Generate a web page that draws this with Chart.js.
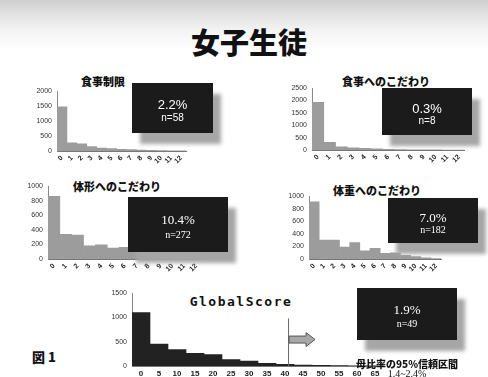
<!DOCTYPE html>
<html>
<head>
<meta charset="utf-8">
<script src="https://cdn.jsdelivr.net/npm/chart.js@4.4.0/dist/chart.umd.min.js"></script>
<style>
  html, body { margin: 0; padding: 0; }
  body {
    width: 488px; height: 377px; overflow: hidden; position: relative;
    background: linear-gradient(to bottom, #cfcfcf 0px, #e2e2e2 14px, #f3f3f3 30px, #fff 50px);
    font-family: "Noto Sans CJK JP", "Liberation Sans", sans-serif;
  }
  .cv { position: absolute; }
  .txt { position: absolute; white-space: nowrap; color: #111; }
  .box {
    position: absolute; background: #1b1b1b; color: #fff; text-align: center;
    box-shadow: 8px 11px 4px #a6a6a6;
  }
  .box .p { position: absolute; left: 0; right: 0; }
</style>
</head>
<body>
<div class="txt" style="left:249px;top:41px;transform:translate(-50%,-50%);font-size:29px;font-weight:900;">女子生徒</div>

<div class="txt" style="left:103px;top:81px;transform:translate(-50%,-50%);font-size:11px;font-weight:900;">食事制限</div>
<div class="txt" style="left:386px;top:81px;transform:translate(-50%,-50%);font-size:11px;font-weight:900;">食事へのこだわり</div>
<div class="txt" style="left:117px;top:186px;transform:translate(-50%,-50%);font-size:11px;font-weight:900;">体形へのこだわり</div>
<div class="txt" style="left:377px;top:190px;transform:translate(-50%,-50%);font-size:11px;font-weight:900;">体重へのこだわり</div>
<div class="txt" style="left:241px;top:301px;transform:translate(-50%,-50%);font-size:13px;font-weight:bold;letter-spacing:1.5px;font-family:'DejaVu Sans Mono','Liberation Mono',monospace;">GlobalScore</div>
<div class="txt" style="left:32px;top:356px;transform:translateY(-50%);font-size:13px;font-weight:900;">図 1</div>

<canvas id="c1" class="cv"></canvas>
<canvas id="c2" class="cv"></canvas>
<canvas id="c3" class="cv"></canvas>
<canvas id="c4" class="cv"></canvas>
<canvas id="c5" class="cv"></canvas>

<div id="boxes"></div>
<div class="txt" style="left:407px;top:363px;transform:translate(-50%,-50%);font-size:10px;font-weight:900;">母比率の95%信頼区間</div>
<div class="txt" style="left:407px;top:373px;transform:translate(-50%,-50%);font-size:10px;font-family:'Liberation Serif',serif;">1.4~2.4%</div>

<script>
// category labels (unreadable in the scan, small rotated ticks)
var smallLabels = ['0','1','2','3','4','5','6','7','8','9','10','11','12'];

// 食事制限
var dietValues = [1480, 270, 240, 150, 100, 80, 60, 45, 30, 20, 10, 5, 3];
// 食事へのこだわり
var foodValues = [1930, 310, 130, 90, 70, 50, 30, 15, 8, 4, 2, 1, 0];
// 体形へのこだわり
var shapeValues = [860, 340, 330, 180, 195, 150, 160, 90, 130, 100, 70, 30, 15];
// 体重へのこだわり
var weightValues = [910, 300, 300, 190, 260, 130, 170, 90, 100, 60, 40, 20, 5];

// GlobalScore
var globalLabels = ['0','5','10','15','20','25','30','35','40','45','50','55','60','65'];
var globalValues = [1100, 450, 340, 260, 235, 130, 100, 55, 35, 20, 12, 8, 5, 4];
var cutoffPos = 8.17;      // cutoff line, in category units
var cutoffTop = 980;       // top of the cutoff line
var arrowLevel = 545;      // arrow height on the y scale

var pctTexts = ['2.2%', '0.3%', '10.4%', '7.0%', '1.9%'];
var nTexts = ['n=58', 'n=8', 'n=272', 'n=182', 'n=49'];

// box placement
var boxList = [
    {x: 132, y: 83, w: 81, h: 50, serif: false},
    {x: 382, y: 88, w: 90, h: 47, serif: false},
    {x: 128, y: 197, w: 100, h: 55, serif: true},
    {x: 388, y: 198, w: 90, h: 45, serif: true},
    {x: 357, y: 288, w: 100, h: 52, serif: true}
];
boxList.forEach((b, i) => {
    let d = document.createElement('div');
    d.className = 'box';
    d.style.left = b.x + 'px';
    d.style.top = b.y + 'px';
    d.style.width = b.w + 'px';
    d.style.height = b.h + 'px';
    let fam = b.serif ? "'Liberation Serif', serif" : "'Liberation Sans', sans-serif";
    d.innerHTML = `<div class="p" style="top:${b.h*0.27}px;font-size:13px;font-family:${fam};">${pctTexts[i]}</div>` +
        `<div class="p" style="top:${b.h*0.58}px;font-size:10px;font-family:${fam};">${nTexts[i]}</div>`;
    document.getElementById('boxes').appendChild(d);
});

function placeCanvas(id, left, top, w, h) {
    let c = document.getElementById(id);
    c.style.left = left + 'px';
    c.style.top = top + 'px';
    c.style.width = w + 'px';
    c.style.height = h + 'px';
    c.width = w;
    c.height = h;
    return c;
}

function makeHist(id, pos, labels, values, yMax, yStep, color, small, extraPlugins) {
    let canvas = placeCanvas(id, pos.left, pos.top, pos.w, pos.h);
    return new Chart(canvas, {
        type: 'bar',
        data: {
            labels: labels,
            datasets: [{
                data: values,
                backgroundColor: color,
                borderWidth: 0,
                barPercentage: 1,
                categoryPercentage: 1
            }]
        },
        options: {
            responsive: false,
            animation: false,
            events: [],
            layout: { padding: { top: 5, right: 0, left: 0, bottom: 0 } },
            plugins: { legend: { display: false }, tooltip: { enabled: false } },
            scales: {
                x: {
                    grid: { display: false, drawTicks: false },
                    border: { display: true, color: '#777', width: 1 },
                    ticks: {
                        color: '#222',
                        font: { family: 'Liberation Sans', size: small ? 7 : 8, weight: 'bold' },
                        minRotation: small ? 45 : 0,
                        maxRotation: small ? 45 : 0,
                        padding: 3,
                        autoSkip: false
                    },
                    afterFit: (s) => { s.height = 16; }
                },
                y: {
                    min: 0, max: yMax,
                    grid: { display: false, drawTicks: false },
                    border: { display: true, color: '#888', width: 1 },
                    ticks: {
                        stepSize: yStep,
                        color: '#333',
                        padding: 5,
                        font: { family: 'Liberation Sans', size: 7 },
                        callback: (v) => String(v)
                    },
                    afterFit: (s) => { s.width = 28; }
                }
            }
        },
        plugins: extraPlugins || []
    });
}

makeHist('c1', {left: 29, top: 82, w: 161, h: 85}, smallLabels, dietValues, 2000, 500, '#9c9c9c', true);
makeHist('c2', {left: 284, top: 79, w: 184, h: 87}, smallLabels, foodValues, 2500, 500, '#9c9c9c', true);
makeHist('c3', {left: 20, top: 177, w: 185, h: 98}, smallLabels, shapeValues, 1000, 200, '#9c9c9c', true);
makeHist('c4', {left: 281, top: 187, w: 164, h: 88}, smallLabels, weightValues, 1000, 200, '#9c9c9c', true);

// cutoff line + arrow on the GlobalScore chart
var cutoffPlugin = {
    id: 'cutoff',
    afterDatasetsDraw(chart) {
        let ctx = chart.ctx;
        let xs = chart.scales.x, ys = chart.scales.y;
        let x = xs.getPixelForValue(cutoffPos);
        ctx.save();
        ctx.strokeStyle = '#666';
        ctx.lineWidth = 1;
        ctx.beginPath();
        ctx.moveTo(x + 0.5, ys.getPixelForValue(0));
        ctx.lineTo(x + 0.5, ys.getPixelForValue(cutoffTop));
        ctx.stroke();

        let y = ys.getPixelForValue(arrowLevel);
        ctx.fillStyle = '#a8a8a8';
        ctx.strokeStyle = '#555';
        ctx.beginPath();
        ctx.moveTo(x + 1, y - 3.5);
        ctx.lineTo(x + 18, y - 3.5);
        ctx.lineTo(x + 18, y - 7);
        ctx.lineTo(x + 27, y);
        ctx.lineTo(x + 18, y + 7);
        ctx.lineTo(x + 18, y + 3.5);
        ctx.lineTo(x + 1, y + 3.5);
        ctx.closePath();
        ctx.fill();
        ctx.stroke();
        ctx.restore();
    }
};
makeHist('c5', {left: 104, top: 284, w: 280, h: 98}, globalLabels, globalValues, 1500, 500, '#222', false, [cutoffPlugin]);
</script>
</body>
</html>
